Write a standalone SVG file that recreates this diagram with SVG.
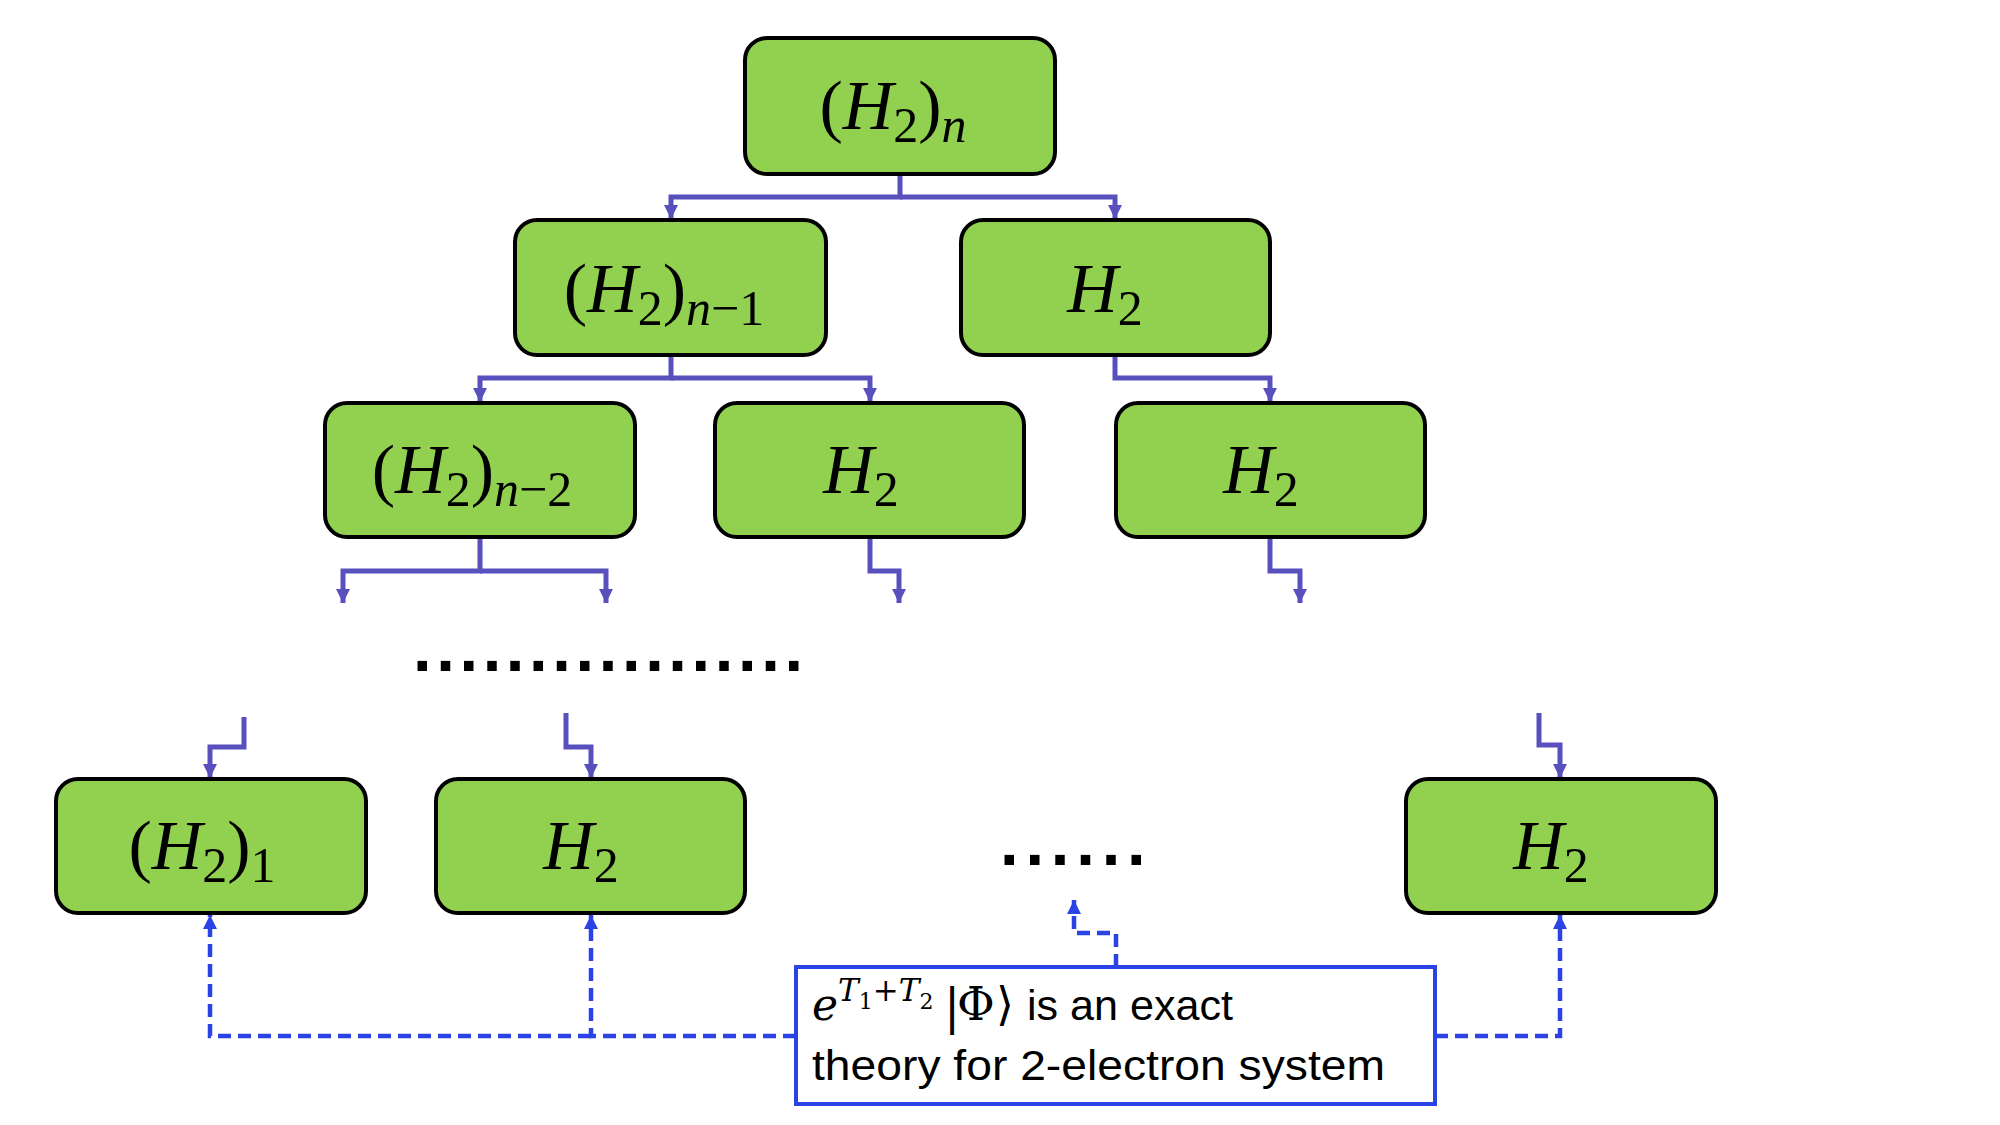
<svg xmlns="http://www.w3.org/2000/svg" width="2000" height="1125" viewBox="0 0 2000 1125">
<defs>
<style>
.node rect{fill:#92D050;stroke:#000;stroke-width:4}
.lbl{font-family:"Liberation Serif","DejaVu Serif",serif;font-size:70px;fill:#000;text-anchor:middle}
.i{font-style:italic}
.sub{font-size:50px}
.conn path{fill:none;stroke:#5750BD;stroke-width:5}
.dash path{fill:none;stroke:#2B42E4;stroke-width:4.5;stroke-dasharray:13 7}
.dots{font-family:"DejaVu Sans",sans-serif;font-weight:bold;font-size:54px;fill:#000}
.note{font-family:"Liberation Sans",sans-serif;font-size:42px;fill:#000}
.m{font-family:"DejaVu Serif","Liberation Serif",serif;fill:#000}
</style>
<marker id="ah" markerUnits="userSpaceOnUse" markerWidth="16" markerHeight="16" viewBox="0 0 16 16" refX="14" refY="8" orient="auto"><path d="M0,1 L14,8 L0,15 Z" fill="#5750BD"/></marker>
<marker id="ahb" markerUnits="userSpaceOnUse" markerWidth="16" markerHeight="16" viewBox="0 0 16 16" refX="14" refY="8" orient="auto"><path d="M0,1 L14,8 L0,15 Z" fill="#2B42E4"/></marker>
</defs>
<rect width="2000" height="1125" fill="#fff"/>

<g id="connectors">
<g class="conn">
<path d="M900,174 V197 H671 V219" marker-end="url(#ah)"/>
<path d="M900,197 H1115 V219" marker-end="url(#ah)"/>
<path d="M671,355 V378 H480 V402" marker-end="url(#ah)"/>
<path d="M671,378 H870 V402" marker-end="url(#ah)"/>
<path d="M1115,355 V378 H1270 V402" marker-end="url(#ah)"/>
<path d="M480,537 V571 H343 V603" marker-end="url(#ah)"/>
<path d="M480,571 H606 V603" marker-end="url(#ah)"/>
<path d="M870,537 V571 H899 V603" marker-end="url(#ah)"/>
<path d="M1270,537 V571 H1300 V603" marker-end="url(#ah)"/>
<path d="M244,717 V747 H210 V778" marker-end="url(#ah)"/>
<path d="M566,713 V747 H591 V778" marker-end="url(#ah)"/>
<path d="M1539,713 V745 H1560 V778" marker-end="url(#ah)"/>
</g>
<g class="dash">
<path d="M796,1036 H591 V915" marker-end="url(#ahb)"/>
<path d="M591,1036 H210 V915" marker-end="url(#ahb)"/>
<path d="M1435,1036 H1560 V915" marker-end="url(#ahb)"/>
<path d="M1116,967 V933 H1074 V900" marker-end="url(#ahb)"/>
</g>
</g>

<g id="n0" class="node"><rect x="745" y="38" width="310" height="136" rx="22"/>
<text class="lbl" x="893" y="129">(<tspan class="i">H</tspan><tspan class="sub" dy="13">2</tspan><tspan dy="-13">)</tspan><tspan class="sub i" dy="13">n</tspan></text></g>

<g id="n1" class="node"><rect x="515" y="220" width="311" height="135" rx="22"/>
<text class="lbl" x="664" y="312">(<tspan class="i">H</tspan><tspan class="sub" dy="13">2</tspan><tspan dy="-13">)</tspan><tspan class="sub" dy="13"><tspan class="i">n</tspan>−1</tspan></text></g>

<g id="n2" class="node"><rect x="961" y="220" width="309" height="135" rx="22"/>
<text class="lbl" x="1105" y="312"><tspan class="i">H</tspan><tspan class="sub" dy="13">2</tspan></text></g>

<g id="n3" class="node"><rect x="325" y="403" width="310" height="134" rx="22"/>
<text class="lbl" x="472" y="493">(<tspan class="i">H</tspan><tspan class="sub" dy="13">2</tspan><tspan dy="-13">)</tspan><tspan class="sub" dy="13"><tspan class="i">n</tspan>−2</tspan></text></g>

<g id="n4" class="node"><rect x="715" y="403" width="309" height="134" rx="22"/>
<text class="lbl" x="861" y="493"><tspan class="i">H</tspan><tspan class="sub" dy="13">2</tspan></text></g>

<g id="n5" class="node"><rect x="1116" y="403" width="309" height="134" rx="22"/>
<text class="lbl" x="1261" y="493"><tspan class="i">H</tspan><tspan class="sub" dy="13">2</tspan></text></g>

<g id="n6" class="node"><rect x="56" y="779" width="310" height="134" rx="22"/>
<text class="lbl" x="202" y="869">(<tspan class="i">H</tspan><tspan class="sub" dy="13">2</tspan><tspan dy="-13">)</tspan><tspan class="sub" dy="13">1</tspan></text></g>

<g id="n7" class="node"><rect x="436" y="779" width="309" height="134" rx="22"/>
<text class="lbl" x="581" y="869"><tspan class="i">H</tspan><tspan class="sub" dy="13">2</tspan></text></g>

<g id="n8" class="node"><rect x="1406" y="779" width="310" height="134" rx="22"/>
<text class="lbl" x="1551" y="869"><tspan class="i">H</tspan><tspan class="sub" dy="13">2</tspan></text></g>

<text class="dots" x="412" y="671" letter-spacing="2.7">.................</text>
<text class="dots" x="999" y="865" letter-spacing="4.9">......</text>

<g id="note">
<rect x="796" y="967" width="639" height="137" fill="#fff" stroke="#2B42E4" stroke-width="4"/>
<text class="m" x="812" y="1020" font-size="44"><tspan font-style="italic">e</tspan><tspan font-size="31" font-style="italic" dy="-19">T</tspan><tspan font-size="22" dy="8">1</tspan><tspan font-size="31" dy="-8">+</tspan><tspan font-size="31" font-style="italic">T</tspan><tspan font-size="22" dy="8">2</tspan></text>
<text class="m" x="944" y="1024" font-size="48">|</text>
<text class="m" x="957" y="1020" font-size="46">Φ</text>
<text class="m" x="996" y="1020" font-size="46">⟩</text>
<text class="note" x="1027" y="1020" textLength="206" lengthAdjust="spacingAndGlyphs">is an exact</text>
<text class="note" x="812" y="1080" textLength="573" lengthAdjust="spacingAndGlyphs">theory for 2-electron system</text>
</g>
</svg>
